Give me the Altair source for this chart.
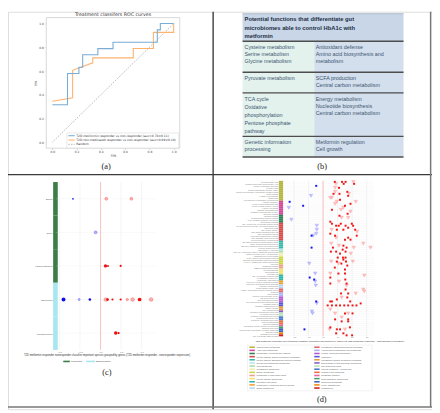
import altair as alt
import pandas as pd

W, H = 432, 405


def P(v):
    return v - 8


# ---------------- (a) ROC curves ----------------
roc_title = "Treatment classifers ROC curves"
roc_names = ["T2D metformin responder vs non-responder (auc=0.74\u00b10.11)",
             "T2D non-medicated responder vs non-responder (auc=0.69\u00b10.10)",
             "Random"]
met_fpr = [0.0, 0.125, 0.125, 0.219, 0.219, 0.25, 0.25, 0.375, 0.375, 0.5, 0.5, 0.865, 0.865, 0.89, 0.89, 1.0]
met_tpr = [0.316, 0.316, 0.579, 0.579, 0.632, 0.632, 0.737, 0.737, 0.789, 0.789, 0.842, 0.842, 0.947, 0.947, 1.0, 1.0]
non_fpr = [0.0, 0.167, 0.167, 0.333, 0.333, 0.667, 0.667, 0.833, 0.833, 1.0, 1.0]
non_tpr = [0.345, 0.375, 0.606, 0.669, 0.711, 0.711, 0.79, 0.79, 0.926, 0.926, 1.0]
rand_fpr = [0.0, 1.0]
rand_tpr = [0.0, 1.0]
roc_ticks = [0.0, 0.2, 0.4, 0.6, 0.8, 1.0]

# ---------------- (b) table ----------------
tb_header = ["Potential functions that differentiate  gut",
             "microbiomes able to control HbA1c with",
             "metformin"]
tb_left = [["Cysteine metabolism", "Serine metabolism", "Glycine metabolism"],
           ["Pyruvate metabolism"],
           ["TCA cycle", "Oxidative", "phosphorylation", "Pentose phosphate", "pathway"],
           ["Genetic information", "processing"]]
tb_right = [["Antioxidant defense", "Amino acid biosynthesis and", "metabolism"],
            ["SCFA production", "Central carbon metabolism"],
            ["Energy metabolism", "Nucleotide biosynthesis", "Central carbon metabolism"],
            ["Metformin regulation", "Cell growth"]]

# ---------------- (c) species by genus ----------------
c_genera = ["Blautia", "Dorea", "Lachnoclostridium", "Bacteroides", "Parabacteroides"]
c_phyla = ["Firmicutes", "Firmicutes", "Firmicutes", "Bacteroidetes", "Bacteroidetes"]
c_pt_genus = ["Blautia", "Blautia", "Blautia", "Dorea",
              "Lachnoclostridium", "Lachnoclostridium", "Lachnoclostridium",
              "Bacteroides", "Bacteroides", "Bacteroides", "Bacteroides", "Bacteroides", "Bacteroides",
              "Bacteroides", "Bacteroides", "Bacteroides", "Bacteroides", "Bacteroides",
              "Parabacteroides", "Parabacteroides"]
c_pt_value = [-0.67, 0.14, 0.75, -0.12, 0.12, 0.18, 0.49,
              -0.90, -0.52, -0.26, 0.13, 0.17, 0.29, 0.49, 0.65, 0.78, 0.95, 1.23,
              0.37, 0.44]
c_pt_size = [3, 9, 9, 9, 11, 4, 5, 16, 5, 7, 14, 8, 5, 5, 6, 14, 14, 14, 13, 5]
c_pt_light = ["full", "light", "light", "light", "full", "full", "full",
              "full", "light", "full", "light", "full", "full", "full", "light", "light", "full", "light",
              "full", "full"]
c_ticks = [-1.0, -0.5, 0.0, 0.5, 1.0]
c_xtitle = ("T2D metformin responder nonresponder classifier important species grouped by genus "
            "(T2D metformin responder - nonresponder expression)")

# ---------------- (d) KOs by KEGG L2 ----------------
d_groups = ["Carbohydrate metabolism", "Amino acid metabolism", "Metabolism of cofactors and vitamins",
            "Protein families: genetic information processing",
            "Protein families: signaling and cellular processes", "Glycan biosynthesis and metabolism",
            "Lipid metabolism", "Unclassified: metabolism", "Energy metabolism",
            "Metabolism of other amino acids", "Protein families: metabolism", "Replication and repair",
            "Metabolism of terpenoids and polyketides", "Signal transduction",
            "Unclassified: signaling and cellular processes", "Xenobiotics biodegradation and metabolism",
            "Folding, sorting and degradation", "Translation",
            "Unclassified: genetic information processing", "Biosynthesis of other secondary metabolites",
            "Cell growth and death", "Cellular community - prokaryotes", "Transport and catabolism",
            "Membrane transport", "Drug resistance: antimicrobial", "Nucleotide metabolism",
            "Poorly characterized", "Transcription"]
d_colors = ["#b8b43e", "#d2479a", "#2f8052", "#d84848", "#36b8aa", "#b3e6ef", "#a9dca2", "#f1ecb4",
            "#c9d83a", "#eca08e", "#eee26a", "#2cb4a6", "#f0a12e", "#b4d6f4",
            "#e06a6a", "#a9b2f0", "#b45ad4", "#5656dc", "#e3993e", "#8a5cc6",
            "#b6e2b6", "#4a78cf", "#e8703c", "#e568a6", "#46a468", "#3a66b4", "#f08a0a", "#d01f1f"]
d_group_counts = [10, 7, 4, 9, 4, 1, 1, 2, 4, 2, 3, 3, 2, 2, 2, 2, 3, 2, 2, 1, 2, 2, 2, 1, 1, 2, 1, 1]
d_row_labels = [
    "pyruvate formate lyase", "phosphoenolpyruvate carboxykinase (ATP)", "glucose-6-phosphate isomerase",
    "pyruvate kinase", "fructose-bisphosphate aldolase, class II",
    "malate dehydrogenase (oxaloacetate-decarboxylating)", "citrate synthase", "L-lactate dehydrogenase",
    "transketolase", "glyceraldehyde 3-phosphate dehydrogenase",
    "cysteine synthase A", "glycine hydroxymethyltransferase", "glycine cleavage system H protein",
    "L-serine dehydratase", "aspartate aminotransferase", "glutamate dehydrogenase (NADP+)",
    "threonine synthase",
    "riboflavin synthase", "phosphomethylpyrimidine synthase", "NAD+ synthase (glutamine-hydrolysing)",
    "dihydrofolate reductase",
    "DNA-directed RNA polymerase subunit omega", "ATP-dependent Clp protease ATP-binding subunit ClpX",
    "chaperonin GroEL", "DNA gyrase subunit A", "large subunit ribosomal protein L31",
    "tRNA modification GTPase", "LysR family transcriptional regulator", "DNA mismatch repair protein MutS",
    "ATP-dependent RNA helicase DeaD",
    "two-component system sensor histidine kinase", "methyl-accepting chemotaxis protein",
    "ABC-2 type transport system ATP-binding protein", "penicillin-binding protein 2",
    "UDP-glucose 4-epimerase",
    "acetyl-CoA carboxylase carboxyl transferase subunit alpha",
    "putative hydrolase of the HAD superfamily", "uncharacterized oxidoreductase",
    "NADH-quinone oxidoreductase subunit B", "succinate dehydrogenase flavoprotein subunit",
    "F-type H+-transporting ATPase subunit alpha", "ferredoxin",
    "glutathione synthase", "gamma-glutamyltranspeptidase",
    "glycosyltransferase", "aminotransferase", "peptidase M20",
    "DNA polymerase III subunit alpha", "recombination protein RecA", "excinuclease ABC subunit B",
    "1-deoxy-D-xylulose-5-phosphate synthase", "isopentenyl-diphosphate Delta-isomerase",
    "response regulator RpfG", "sensor histidine kinase YesM",
    "putative ABC transport system permease protein", "lipoprotein",
    "nitroreductase", "aldehyde dehydrogenase (NAD+)",
    "heat shock protein HtpX", "molecular chaperone DnaK", "sec-independent protein translocase TatA",
    "elongation factor Tu", "translation initiation factor IF-2",
    "putative helicase", "RNA-binding protein",
    "phenazine biosynthesis protein PhzF",
    "cell division protein FtsZ", "rod shape-determining protein MreB",
    "S-ribosylhomocysteine lyase", "biofilm PGA synthesis protein PgaA",
    "beta-hexosaminidase", "glucosylceramidase",
    "PTS system, glucose-specific IIC component",
    "multidrug efflux pump",
    "ribonucleoside-diphosphate reductase alpha chain", "adenylate kinase",
    "uncharacterized protein",
    "RNA polymerase sigma-70 factor"]
d_blue_rows = [2, 7, 10, 12, 13, 19, 22, 24, 26, 27, 27, 33, 41, 46, 48, 49, 50, 52, 60, 61, 65, 66, 74]
d_blue_values = [-0.47, -0.83, -2.30, -1.37, -2.36, -2.18, -0.43, -0.43, -0.47, -0.68, -0.79, -0.79,
                 -0.95, -0.54, -0.92, -0.61, -0.54, -0.50, -0.47, -0.43, -0.77, -0.72, -1.28]
d_blue_open = [0, 1, 0, 0, 1, 1, 1, 1, 1, 1, 0, 0, 1, 1, 0, 0, 1, 1, 0, 1, 1, 1, 0]
d_red_rows = [0, 1, 0, 1, 0, 0, 1, 3, 3, 6, 5, 8, 6, 5, 6, 7, 8, 10, 9, 10, 11, 11, 13, 12,
              14, 14, 15, 16, 17, 18, 18, 20, 21, 22, 22, 21, 22, 21, 22, 23,
              24, 24, 24, 24, 25, 26, 27, 28, 29, 28, 29, 27,
              31, 32, 32, 33, 33, 31, 33, 33, 34, 35, 35, 36, 35, 36, 38, 38, 38,
              40, 40, 41, 39, 40, 40, 41, 43, 44, 42, 46, 46, 46, 48, 49, 47,
              50, 51, 52, 51, 54, 54, 56, 55, 56, 56, 58, 58, 59, 60, 60, 61, 60,
              62, 62, 62, 62, 62, 62, 62, 62, 64, 66, 66, 66, 66,
              69, 68, 69, 70, 70, 73, 74, 74, 74, 74, 73, 76, 76, 77, 77]
d_red_values = [0.81, 0.88, 1.31, 1.42, 1.55, 2.09, 2.14, 0.83, 1.10, 0.72, 0.83, 0.61, 1.13, 1.67,
                1.78, 1.73, 0.50, 0.95, 1.17, 2.25, 1.89, 0.83, 1.40, 1.51,
                0.61, 1.24, 1.89, 1.69, 1.13, 1.28, 1.73, 0.50, 0.61, 0.90, 1.08, 1.22, 1.55, 1.98,
                2.07, 1.73,
                0.59, 0.95, 1.40, 2.21, 2.34, 0.50, 0.83, 0.90, 1.51, 1.73, 1.89, 2.32,
                0.56, 1.10, 1.40, 1.62, 2.12, 2.77, 3.27, 0.68, 1.35, 0.54, 0.90, 1.17, 1.55, 1.91,
                1.01, 1.37, 1.55,
                0.56, 0.95, 1.06, 1.40, 1.58, 2.05, 1.26, 0.81, 1.51, 1.67, 0.50, 1.06, 1.51, 0.50,
                1.53, 2.84,
                1.10, 1.62, 1.62, 0.50, 1.55, 2.77, 2.25, 2.84, 1.24, 1.73, 1.28, 1.67, 0.95, 0.50,
                0.61, 2.59, 1.87,
                0.32, 0.61, 0.90, 1.17, 1.46, 1.73, 2.03, 2.30, 0.50, 0.83, 1.51, 1.73, 2.03,
                0.83, 1.28, 1.73, 1.28, 1.73, 0.50, 0.45, 0.95, 1.17, 1.51, 1.85, 0.90, 1.40, 1.62,
                2.00]
d_red_open = [0, 1, 0, 0, 0, 1, 0, 1, 0, 0, 1, 1, 0, 0, 1, 0, 1, 1, 0, 1, 0, 1, 1, 0,
              0, 1, 1, 0, 0, 1, 1, 0, 0, 0, 0, 0, 0, 0, 0, 0,
              1, 0, 0, 0, 1, 0, 0, 1, 0, 0, 0, 0,
              1, 1, 0, 0, 1, 1, 1, 0, 0, 0, 0, 0, 0, 1, 0, 0, 0,
              1, 0, 1, 0, 0, 1, 0, 0, 0, 0, 1, 0, 0, 0, 0, 1,
              1, 0, 1, 0, 0, 1, 1, 1, 0, 0, 1, 0, 0, 0, 0, 0, 0,
              0, 0, 0, 0, 0, 0, 0, 0, 1, 1, 0, 1, 0,
              0, 1, 0, 0, 0, 0, 1, 0, 0, 1, 0, 0, 0, 0, 0]
d_ticks = [-2, -1, 0, 1, 2, 3]
d_xtitle = ("T2D metformin responder non-responder classifier important KOs grouped by KEGG L2 "
            "(T2D metformin responder - nonresponder expression)")

# ---------------- helpers ----------------
one = pd.DataFrame({"k": [0]})
SANS = "Liberation Sans"
SERIF = "Liberation Serif"
DJ = "DejaVu Sans"


def txt(s, x, y, size, color="#333333", align="left", font=SANS, weight="normal", angle=0):
    return alt.Chart(one).mark_text(text=s, align=align, baseline="middle", fontSize=size, font=font,
                                    fontWeight=weight, color=color, angle=angle).encode(
        x=alt.value(P(x)), y=alt.value(P(y)))


def seg(x1, y1, x2, y2, color, width=1.0, dash=None):
    kw = dict(color=color, strokeWidth=width)
    if dash:
        kw["strokeDash"] = dash
    return alt.Chart(one).mark_rule(**kw).encode(
        x=alt.value(P(x1)), y=alt.value(P(y1)), x2=alt.value(P(x2)), y2=alt.value(P(y2)))


def box(x1, y1, x2, y2, fill=None, stroke=None, sw=1.0):
    kw = {}
    if fill:
        kw["fill"] = fill
    else:
        kw["fillOpacity"] = 0
    if stroke:
        kw["stroke"] = stroke
        kw["strokeWidth"] = sw
    return alt.Chart(one).mark_rect(**kw).encode(
        x=alt.value(P(x1)), x2=alt.value(P(x2)), y=alt.value(P(y1)), y2=alt.value(P(y2)))


layers = []

# ================= panel (a) =================
sa_x = alt.Scale(domain=[-0.05, 1.05], range=[P(47), P(183)], nice=False, zero=False)
sa_y = alt.Scale(domain=[-0.05, 1.05], range=[P(147), P(14)], nice=False, zero=False)
layers.append(box(47, 14, 183, 147, fill="#ffffff", stroke="#cfcfcf", sw=0.8))
rand_df = pd.DataFrame({"fpr": rand_fpr, "tpr": rand_tpr})
layers.append(alt.Chart(rand_df).mark_line(color="#8a8a8a", strokeWidth=0.6, strokeDash=[1.5, 1.2]).encode(
    x=alt.X("fpr:Q", scale=sa_x, axis=None), y=alt.Y("tpr:Q", scale=sa_y, axis=None)))
roc_df = pd.concat([
    pd.DataFrame({"series": roc_names[1], "fpr": non_fpr, "tpr": non_tpr, "i": range(len(non_fpr))}),
    pd.DataFrame({"series": roc_names[0], "fpr": met_fpr, "tpr": met_tpr, "i": range(len(met_fpr))}),
])
ax_common = dict(grid=False, domain=False, tickSize=1, tickWidth=0.5, tickColor="#666666",
                 labelFontSize=3, labelColor="#444444", labelFont=DJ, labelFlush=False,
                 labelOverlap=False, titleFontSize=3, titleFontWeight="normal", titleColor="#444444",
                 titleFont=DJ, values=roc_ticks, format=".1f")
layers.append(alt.Chart(roc_df).mark_line(strokeWidth=1.1).encode(
    x=alt.X("fpr:Q", scale=sa_x, axis=alt.Axis(orient="bottom", offset=P(147) - H, title="FPR",
                                               labelPadding=1, titlePadding=1, **ax_common)),
    y=alt.Y("tpr:Q", scale=sa_y, axis=alt.Axis(orient="left", offset=-P(47), title="TPR",
                                               labelPadding=2, titlePadding=1.5, **ax_common)),
    color=alt.Color("series:N", scale=alt.Scale(domain=roc_names[:2], range=["#79acd6", "#ffb26e"]),
                    legend=None),
    order="i:Q"))
layers.append(txt(roc_title, 115, 11, 4.8, color="#333333", align="center", font=DJ))
# legend box
layers.append(box(68, 131.5, 182, 146.8, fill="#ffffff", stroke="#d9d9d9", sw=0.6))
leg_cols = ["#79acd6", "#ffb26e", "#8a8a8a"]
for k, yy in enumerate([134.3, 138.7, 143.1]):
    layers.append(seg(69.5, yy, 76, yy, leg_cols[k], 1.1 if k < 2 else 0.6,
                      dash=[1.5, 1.2] if k == 2 else None))
    layers.append(txt(roc_names[k], 77.5, yy, 3.05, color="#333333", font=DJ))
layers.append(txt("(a)", 108, 165, 8.5, color="#222222", align="center", font=SERIF))

# ================= panel (b) =================
tx0, txm, tx1 = 247, 320, 411
row_bounds = [38, 69.7, 90.7, 135, 156]
layers.append(box(tx0, 10, tx1, 38, fill="#c8d6e8"))
for r in range(4):
    layers.append(box(tx0, row_bounds[r], txm, row_bounds[r + 1], fill="#e4f2ee"))
    layers.append(box(txm, row_bounds[r], tx1, row_bounds[r + 1], fill="#d3dfed"))
layers.append(seg(tx0, 10, tx1, 10, "#8a9ab0", 0.6))
for yb in row_bounds:
    layers.append(seg(tx0, yb, tx1, yb, "#4d4d4d", 1.4))
for k, s in enumerate(tb_header):
    layers.append(txt(s, 249, 15.7 + 8.65 * k, 5.9, color="#1c2e44", weight="bold"))
for r in range(4):
    lsp = 8.35 if r == 2 else 7.35
    for k, s in enumerate(tb_left[r]):
        layers.append(txt(s, 249, row_bounds[r] + 5.8 + lsp * k, 5.5, color="#3d5570"))
    for k, s in enumerate(tb_right[r]):
        layers.append(txt(s, 321.5, row_bounds[r] + 5.8 + 7.3 * k, 5.5, color="#3d5570"))
layers.append(txt("(b)", 328, 165, 8.5, color="#222222", align="center", font=SERIF))

# ================= panel (c) =================
c_top, c_bot = 181.5, 352.5
sc_x = alt.Scale(domain=[-1.04, 1.33], range=[P(58.7), P(158)], nice=False, zero=False)
sc_band = alt.Scale(type="band", domain=c_genera, range=[P(c_top), P(c_bot)], paddingInner=0, paddingOuter=0)
sc_pt = alt.Scale(type="point", domain=c_genera, range=[P(c_top), P(c_bot)], padding=0.5)
phy_scale = alt.Scale(domain=["Firmicutes", "Bacteroidetes"], range=["#3b7d46", "#a8e6f0"])
c_bar_df = pd.DataFrame({"genus": c_genera, "phylum": c_phyla})
layers.append(alt.Chart(c_bar_df).mark_rect().encode(
    y=alt.Y("genus:N", scale=sc_band, axis=None), x=alt.value(P(54)), x2=alt.value(P(58.7)),
    color=alt.Color("phylum:N", scale=phy_scale, legend=None)))
c_tick_df = pd.DataFrame({"t": c_ticks})
layers.append(alt.Chart(c_tick_df).mark_rule(color="#ebebeb", strokeWidth=0.5).encode(
    x=alt.X("t:Q", scale=sc_x, axis=alt.Axis(orient="bottom", offset=P(c_bot) - H, values=c_ticks, format=".1f",
                                             grid=False, domain=False, ticks=False, labelFontSize=2.3,
                                             labelColor="#666666", labelPadding=0.8, labelFont=SANS,
                                             labelFlush=False, labelOverlap=False, title=c_xtitle,
                                             titleFontSize=2.7, titleFontWeight="normal", titleColor="#333333",
                                             titlePadding=0.8, titleFont=SANS, titleLimit=600)),
    y=alt.value(P(c_top)), y2=alt.value(P(c_bot))))
layers.append(alt.Chart(c_bar_df).mark_rule(color="#e3e3e3", strokeWidth=0.4, strokeDash=[1, 1]).encode(
    y=alt.Y("genus:N", scale=sc_pt, axis=alt.Axis(orient="left", offset=-P(54), grid=False, domain=False,
                                                  ticks=False, labelFontSize=2.2, labelColor="#555555",
                                                  labelPadding=1.2, labelFont=SANS, labelOverlap=False,
                                                  title="")),
    x=alt.value(P(56.7)), x2=alt.value(P(158))))
layers.append(alt.Chart(pd.DataFrame({"t": [0.0]})).mark_rule(color="#ffb3b3", strokeWidth=0.8).encode(
    x=alt.X("t:Q", scale=sc_x, axis=None), y=alt.value(P(c_top)), y2=alt.value(P(c_bot))))
c_df = pd.DataFrame({"genus": c_pt_genus, "value": c_pt_value, "size": c_pt_size, "light": c_pt_light})
c_df["sign"] = ["pos" if v > 0 else "neg" for v in c_df["value"]]
sign_scale_c = alt.Scale(domain=["neg", "pos"], range=["#1010ee", "#ee1010"])
size_scale = alt.Scale(domain=[0, 20], range=[0, 20], zero=True)
layers.append(alt.Chart(c_df).mark_circle().encode(
    x=alt.X("value:Q", scale=sc_x, axis=None), y=alt.Y("genus:N", scale=sc_pt, axis=None),
    color=alt.Color("sign:N", scale=sign_scale_c, legend=None),
    opacity=alt.Opacity("light:N", scale=alt.Scale(domain=["full", "light"], range=[1.0, 0.3]), legend=None),
    size=alt.Size("size:Q", scale=size_scale, legend=None)))
layers.append(alt.Chart(c_df[c_df["light"] == "light"]).mark_point(filled=False, strokeWidth=0.5, opacity=0.55).encode(
    x=alt.X("value:Q", scale=sc_x, axis=None), y=alt.Y("genus:N", scale=sc_pt, axis=None),
    color=alt.Color("sign:N", scale=sign_scale_c, legend=None),
    size=alt.Size("size:Q", scale=size_scale, legend=None)))
layers.append(seg(64.3, 364.3, 71, 364.3, "#3b7d46", 1.6))
layers.append(txt("Firmicutes", 72.3, 364.3, 2.4, color="#444444"))
layers.append(seg(87.7, 364.3, 96.7, 364.3, "#a8e6f0", 1.6))
layers.append(txt("Bacteroidetes", 97.7, 364.3, 2.4, color="#444444"))
layers.append(txt("(c)", 108.7, 374.7, 8.5, color="#222222", align="center", font=SERIF))

# ================= panel (d) =================
d_top, d_bot = 180.3, 338.7
sd_x = alt.Scale(domain=[-2.635, 3.514], range=[P(290), P(381)], nice=False, zero=False)
sd_band = alt.Scale(type="band", domain=d_row_labels, range=[P(d_top), P(d_bot)], paddingInner=0, paddingOuter=0)
sd_pt = alt.Scale(type="point", domain=d_row_labels, range=[P(d_top), P(d_bot)], padding=0.5)
grp_scale = alt.Scale(domain=d_groups, range=d_colors)
row_groups = []
for g, n in zip(d_groups, d_group_counts):
    row_groups += [g] * n
d_rows_df = pd.DataFrame({"label": d_row_labels, "group": row_groups})
layers.append(alt.Chart(d_rows_df).mark_rule(color="#efefef", strokeWidth=0.35).encode(
    y=alt.Y("label:N", scale=sd_pt, axis=alt.Axis(orient="left", offset=-P(284), grid=False, domain=False,
                                                  ticks=False, labelFontSize=1.8, labelColor="#7a7a7a",
                                                  labelPadding=0.8, labelFont=SANS, labelOverlap=False,
                                                  labelLimit=300, title="")),
    x=alt.value(P(289)), x2=alt.value(P(381))))
d_tick_df = pd.DataFrame({"t": d_ticks})
layers.append(alt.Chart(d_tick_df).mark_rule(color="#e9e9e9", strokeWidth=0.5).encode(
    x=alt.X("t:Q", scale=sd_x, axis=alt.Axis(orient="bottom", offset=P(d_bot) - H, values=d_ticks, format=".1f",
                                             grid=False, domain=False, ticks=False, labelFontSize=1.8,
                                             labelColor="#666666", labelPadding=0.5, labelFont=SANS,
                                             labelFlush=False, labelOverlap=False, title=d_xtitle,
                                             titleFontSize=2.4, titleFontWeight="normal", titleColor="#333333",
                                             titlePadding=0.5, titleFont=SANS, titleLimit=600)),
    y=alt.value(P(d_top)), y2=alt.value(P(d_bot))))
layers.append(alt.Chart(d_rows_df).mark_rect().encode(
    y=alt.Y("label:N", scale=sd_band, axis=None), x=alt.value(P(284)), x2=alt.value(P(288.3)),
    color=alt.Color("group:N", scale=grp_scale, legend=None)))
layers.append(alt.Chart(pd.DataFrame({"t": [0.0]})).mark_rule(color="#ffb3b3", strokeWidth=0.8).encode(
    x=alt.X("t:Q", scale=sd_x, axis=None), y=alt.value(P(d_top)), y2=alt.value(P(d_bot))))
d_df = pd.DataFrame({
    "label": [d_row_labels[i] for i in d_blue_rows] + [d_row_labels[i] for i in d_red_rows],
    "value": d_blue_values + d_red_values,
    "open": d_blue_open + d_red_open,
})
d_df["sign"] = ["pos" if v > 0 else "neg" for v in d_df["value"]]
layers.append(alt.Chart(d_df[d_df["open"] == 1]).mark_point(shape="triangle-down", filled=True, size=12,
                                                             strokeWidth=0.4, opacity=0.9).encode(
    x=alt.X("value:Q", scale=sd_x, axis=None), y=alt.Y("label:N", scale=sd_pt, axis=None),
    fill=alt.Fill("sign:N", scale=alt.Scale(domain=["neg", "pos"], range=["#bcbfff", "#ffbcbc"]), legend=None),
    stroke=alt.Stroke("sign:N", scale=alt.Scale(domain=["neg", "pos"], range=["#8f94ff", "#ff8f8f"]), legend=None)))
layers.append(alt.Chart(d_df[d_df["open"] == 0]).mark_square(size=4, opacity=1).encode(
    x=alt.X("value:Q", scale=sd_x, axis=None), y=alt.Y("label:N", scale=sd_pt, axis=None),
    color=alt.Color("sign:N", scale=alt.Scale(domain=["neg", "pos"], range=["#1414f0", "#f01414"]), legend=None)))
# legend of (d)
layers.append(box(252, 347.6, 379, 394.2, stroke="#e4e4e4", sw=0.5))
d_leg_df = pd.DataFrame({"group": d_groups, "col": [0] * 14 + [1] * 14, "idx": list(range(14)) * 2})
leg_y = alt.Scale(domain=[0, 13], range=[P(349.8), P(349.8 + 13 * 3.2)], nice=False, zero=False)
for col, (sx1, sx2, tx) in enumerate([(254, 259.5, 261.2), (320, 325.5, 327.2)]):
    sub = d_leg_df[d_leg_df["col"] == col]
    layers.append(alt.Chart(sub).mark_rule(strokeWidth=1.6).encode(
        y=alt.Y("idx:Q", scale=leg_y, axis=None), x=alt.value(P(sx1)), x2=alt.value(P(sx2)),
        color=alt.Color("group:N", scale=grp_scale, legend=None)))
    layers.append(alt.Chart(sub).mark_text(align="left", baseline="middle", fontSize=2.1, color="#555555",
                                           font=SANS).encode(
        y=alt.Y("idx:Q", scale=leg_y, axis=None), x=alt.value(P(tx)), text="group:N"))
layers.append(txt("(d)", 327.7, 402.5, 8.5, color="#222222", align="center", font=SERIF))

# ================= frame & dividers =================
layers.append(seg(217, 8, 217, 413, "#3a3a3a", 1.4))
layers.append(seg(8, 174, 440, 174, "#3a3a3a", 1.4))
layers.append(seg(438.6, 8, 438.6, 410.6, "#777777", 1.5))
layers.append(seg(8, 410.6, 440, 410.6, "#777777", 1.5))

chart = alt.layer(*layers).properties(
    width=W, height=H, padding=0, autosize=alt.AutoSizeParams(type="none")
).resolve_scale(
    x="independent", y="independent", color="independent", opacity="independent",
    size="independent", fill="independent", stroke="independent"
).resolve_axis(x="independent", y="independent").configure_view(strokeWidth=0).configure(background="white")

chart.save("out.html", embed_options={"renderer": "svg", "actions": False})
